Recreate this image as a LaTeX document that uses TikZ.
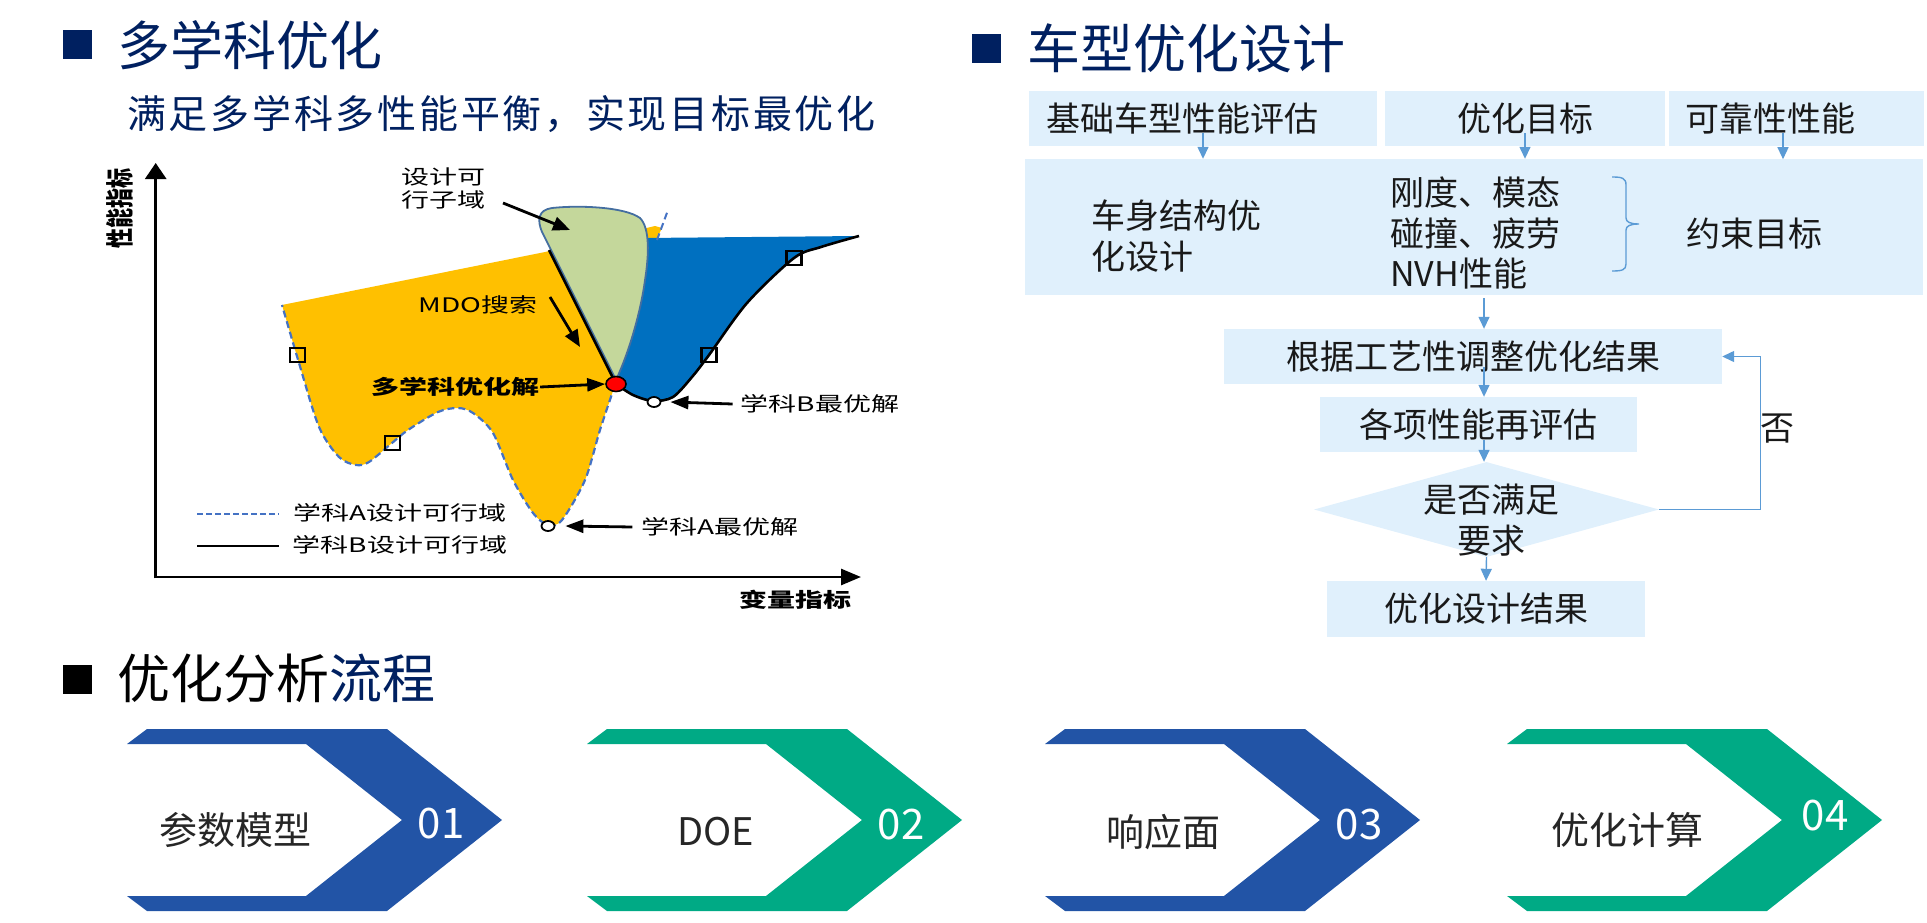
\documentclass[tikz,border=0pt]{standalone}
\usepackage{fontspec}
\usetikzlibrary{arrows.meta,shapes.geometric}
\newfontfamily\cjk{Noto Sans CJK SC}
\definecolor{navy}{RGB}{0,32,96}
\definecolor{boxblue}{RGB}{224,240,252}
\definecolor{arrblue}{RGB}{91,155,213}
\definecolor{chevblue}{RGB}{34,84,166}
\definecolor{chevgreen}{RGB}{0,170,133}
\definecolor{yel}{RGB}{255,192,0}
\definecolor{regblue}{RGB}{0,112,192}
\definecolor{leaf}{RGB}{196,215,155}
\definecolor{leafedge}{RGB}{68,110,160}
\definecolor{dashblue}{RGB}{68,114,196}
\definecolor{txt}{RGB}{25,25,25}
\definecolor{chtxt}{RGB}{38,38,38}
\newcommand\fsz[2]{\fontsize{#1}{#2}\selectfont}
\newcommand\wx[1]{\scalebox{1.4}[1]{#1}}
\begin{document}
\begin{tikzpicture}[x=1pt,y=-1pt,
  hmarker/.style={fill=navy, minimum width=29pt, minimum height=29pt, inner sep=0pt},
  ttl/.style={font=\cjk\fsz{53}{60}, anchor=west, inner sep=0pt, text=navy},
  fb/.style={fill=boxblue, inner sep=0pt, font=\cjk\fsz{34}{40}, text=txt},
  ft/.style={font=\cjk\fsz{34}{40.5}, inner sep=0pt, text=txt},
  farr/.style={draw=arrblue, line width=1.4pt, -{Triangle[length=12pt,width=11pt]}},
  ct/.style={font=\cjk\fsz{20}{23}, inner sep=1pt, align=center},
  ctb/.style={font=\cjk\bfseries\fsz{20}{23}, inner sep=1pt, align=center},
  harr/.style={line width=2.8pt, -{Triangle[length=18pt,width=13pt]}},
  darr/.style={line width=2.8pt, -{Triangle[length=17pt,width=14pt]}},
  sq/.style={draw, line width=2.3pt, minimum width=15pt, minimum height=14pt, inner sep=0pt},
  opt/.style={ellipse, draw, fill=white, line width=1.8pt, minimum width=13pt, minimum height=10pt, inner sep=0pt},
  chl/.style={font=\cjk\fsz{38}{44}, text=chtxt, inner sep=0pt},
  chn/.style={font=\cjk\fsz{42}{48}, text=white, inner sep=0pt}
]
\useasboundingbox (0,0) rectangle (1927,923);

% ---------------- headings ----------------
\node[hmarker] (m1) at (77.5,45) {};
\node[ttl] (t1) at (117,45) {多学科优化};
\node[anchor=west, inner sep=0pt, text=navy, font=\cjk\fsz{39}{44}\addfontfeatures{LetterSpace=7}] (sub1) at (127,114) {满足多学科多性能平衡，实现目标最优化};
\node[hmarker] (m2) at (986.5,48.5) {};
\node[ttl] (t2) at (1027,48.5) {车型优化设计};
\node[hmarker, fill=black] (m3) at (77.5,679.5) {};
\node[ttl, text=black] (t3) at (117,678.5) {优化分析\textcolor{navy}{流程}};

% ---------------- chart ----------------
\fill[yel] (282,305) -- (545,252) -- (655,226) -- (662,228) -- (656,240) -- (615,385)
  -- plot[smooth] coordinates {(615,385) (600,430) (585,480) (562,520) (548,525) (533,513) (513,480) (493,433) (473,413) (458,408) (438,412) (408,430) (392,443) (369,462) (356,465) (339,457) (319,427) (299,363) (282,305)} -- cycle;
\fill[regblue] (610,385) -- (627,333) -- (637,283) -- (644,238) -- (859,236)
  -- plot[smooth] coordinates {(859,236) (821,247) (794,258) (747,303) (709,355) (692,377) (673,397) (653,401) (633,395) (616,384)} -- cycle;
\filldraw[fill=leaf, draw=leafedge, line width=1.8pt] (616,380) -- (542,232) .. controls (537,220) and (538,210) .. (552,208) .. controls (580,205) and (625,207) .. (640,218) .. controls (650,228) and (649,255) .. (645,280) .. controls (641,310) and (630,350) .. (616,380) -- cycle;
\draw[dashblue, dash pattern=on 7pt off 4pt, line width=2.2pt]
  plot[smooth] coordinates {(615,385) (600,430) (585,480) (562,520) (548,525) (533,513) (513,480) (493,433) (473,413) (458,408) (438,412) (408,430) (392,443) (369,462) (356,465) (339,457) (319,427) (299,363) (282,305)};
\draw[dashblue, dash pattern=on 7pt off 4pt, line width=2pt] (657,240) -- (668,210);
\draw[line width=2.6pt] (549,250) -- (616,384)
  -- plot[smooth] coordinates {(616,384) (633,395) (653,401) (673,397) (692,377) (709,355) (747,303) (794,258) (821,247) (859,236)};
\node[sq] (s1) at (297.5,355) {};
\node[sq] (s2) at (392.5,443) {};
\node[sq] (s3) at (709,355) {};
\node[sq] (s4) at (794,258) {};
\node[ellipse, draw, fill=red, line width=1.6pt, minimum width=20pt, minimum height=15pt, inner sep=0pt] (sol) at (616,384) {};
\node[opt] (aopt) at (548,526) {};
\node[opt] (bopt) at (654,402) {};
\coordinate (o) at (155.7,577);
\draw[line width=2.7pt, -{Triangle[length=16pt,width=21pt]}] (155.7,578.3) -- (155.7,163);
\draw[line width=2.7pt, -{Triangle[length=20pt,width=16pt]}] (o) -- (861,577);
\node[ctb, rotate=90] (ylab) at (120,208) {\scalebox{1}[1.4]{性能指标}};
\node[ctb] (xlab) at (795,600) {\wx{变量指标}};
\node[ct] (subd) at (443,188) {\wx{设计可}\\\wx{行子域}};
\node[ct] (mdo) at (478,305) {\wx{MDO搜索}};
\node[ctb] (lsol) at (455,387) {\wx{多学科优化解}};
\node[ct] (lb) at (820,404) {\wx{学科B最优解}};
\node[ct] (la) at (720,527) {\wx{学科A最优解}};
\node[ct] (lga) at (400,513) {\wx{学科A设计可行域}};
\node[ct] (lgb) at (400,545) {\wx{学科B设计可行域}};
\draw[dashblue, dash pattern=on 6pt off 3pt, line width=2pt] (197,514) -- (279,514);
\draw[line width=2pt] (197,546) -- (279,546);
\draw[darr] (503,203) -- (570,230);
\draw[darr] (550,297) -- (580,347);
\draw[harr] (lsol.east) -- (sol.west);
\draw[harr] ([xshift=-7pt]lb.west) -- ([xshift=9pt]bopt.east);
\draw[harr] ([xshift=-8pt]la.west) -- ([xshift=10pt]aopt.east);

% ---------------- flowchart ----------------
\node[fb, minimum height=55pt, text width=314pt, inner xsep=17pt, align=left] (b1) at (1203,118.5) {基础车型性能评估};
\node[fb, minimum width=280pt, minimum height=55pt] (b2) at (1525,118.5) {优化目标};
\node[fb, minimum height=55pt, text width=223pt, inner xsep=16pt, align=left] (b3) at (1796.5,118.5) {可靠性性能};
\node[fb, minimum width=898pt, minimum height=136pt] (body) at (1474,227) {};
\node[ft, anchor=west, align=left] (bt1) at (1091,236) {车身结构优\\化设计};
\node[ft, anchor=west, align=left] (bt2) at (1390,233) {刚度、模态\\碰撞、疲劳\\NVH性能};
\node[ft] (bt3) at (1754.5,234) {约束目标};
\draw[arrblue, line width=1.4pt] (1612,177) .. controls (1622,177) and (1626,178) .. (1626,185) -- (1626,218)
  .. controls (1626,222) and (1630,224) .. (1639,224) .. controls (1630,224) and (1626,226) .. (1626,230)
  -- (1626,264) .. controls (1626,270) and (1622,271) .. (1612,271);

\node[fb, minimum width=498pt, minimum height=55pt] (adj) at (1473,356.5) {根据工艺性调整优化结果};
\node[fb, minimum width=317pt, minimum height=55pt] (eval) at (1478.5,424.5) {各项性能再评估};
\node[diamond, fill=boxblue, minimum width=345pt, minimum height=95pt, inner sep=0pt] (dia) at (1486.5,509.5) {};
\node[ft, align=center] (diat) at (1491,520) {是否满足\\要求};
\node[fb, minimum width=318pt, minimum height=56pt] (fin) at (1486,609) {优化设计结果};
\node[ft] (no) at (1777,429) {否};

\coordinate (ax) at (1484,0);
\draw[farr] ([yshift=13pt]b1.south) -- (b1.south |- body.north);
\draw[farr] ([yshift=13pt]b2.south) -- (b2.south |- body.north);
\draw[farr] ([xshift=-13.5pt,yshift=13pt]b3.south) -- ++(0,26);
\draw[farr] (body.south -| ax) ++(0,3) -- (adj.north -| ax);
\draw[farr] (adj.south -| ax) ++(0,-17) -- (eval.north -| ax);
\draw[farr] (eval.south -| ax) ++(0,-12) -- (dia.north -| ax);
\draw[farr] (dia.south) -- (fin.north);
\draw[farr] (dia.east) -- ++(101,0) |- (adj.east);

% ---------------- process chevrons ----------------
\foreach \L/\c in {127/chevblue, 587/chevgreen, 1045/chevblue, 1507/chevgreen}{
  \fill[\c] (\L+20,729) -- (\L+260,729) -- (\L+375,820) -- (\L+260,911) -- (\L+20,911) -- (\L,896)
    -- (\L+179,896) -- (\L+275,820) -- (\L+179,744) -- (\L,744) -- cycle;
}
\node[chl] (c1) at (235,830) {参数模型};
\node[chn] (n1) at (441,824) {01};
\node[chl] (c2) at (716,832) {DOE};
\node[chn] (n2) at (901,825) {02};
\node[chl] (c3) at (1163,832) {响应面};
\node[chn] (n3) at (1359,825) {03};
\node[chl] (c4) at (1627,830) {优化计算};
\node[chn] (n4) at (1825,816) {04};
\end{tikzpicture}
\end{document}
